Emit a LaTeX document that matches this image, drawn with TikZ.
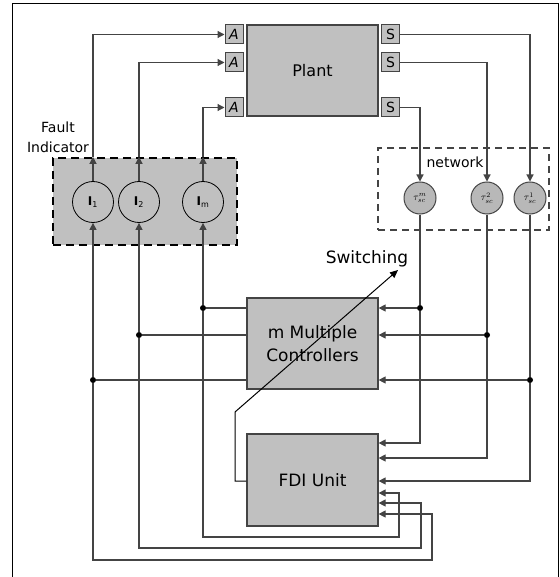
\documentclass[tikz,border=0pt]{standalone}
\usepackage{fontspec}
\setmainfont{DejaVu Sans}
\usetikzlibrary{arrows.meta}
\definecolor{lc}{HTML}{444444}
\definecolor{boxg}{HTML}{C0C0C0}
\definecolor{taug}{HTML}{B8B8B8}
\begin{document}
\begin{tikzpicture}[x=1pt,y=-1pt,
  ln/.style={draw=lc, line width=1.2pt},
  arr/.style={ln, -{Triangle[length=7pt,width=7pt]}},
  blk/.style={draw=lc, fill=boxg, line width=1.2pt, minimum width=131pt, minimum height=91pt, inner sep=0pt, align=center, font=\fontsize{17}{23}\selectfont},
  port/.style={draw=lc, fill=boxg, line width=1pt, minimum width=18pt, minimum height=19pt, inner sep=0pt, font=\itshape\fontsize{14}{14}\selectfont},
  ind/.style={circle, draw=black, fill=boxg, line width=0.8pt, minimum size=41pt, inner sep=0pt, font=\fontsize{12}{12}\selectfont},
  tau/.style={circle, draw=lc, fill=taug, line width=1pt, minimum size=32pt, inner sep=0pt, font=\fontsize{10}{10}\selectfont},
  dot/.style={circle, fill=black, minimum size=6pt, inner sep=0pt},
  lbl/.style={inner sep=0pt, align=center},
]
\useasboundingbox (0,0) rectangle (559,577);
\draw[black, line width=1pt] (12,577) -- (12,4) -- (558,4) -- (558,577);

% plant and ports
\node[blk, font=\fontsize{16}{16}\selectfont] (plant) at (312.5,70.5) {Plant};
\node[port] (A1) at (234,34.5) {A};
\node[port] (A2) at (234,62.5) {A};
\node[port] (A3) at (234,107.5) {A};
\node[port, font=\fontsize{14}{14}\selectfont] (S1) at (390.5,34.5) {S};
\node[port, font=\fontsize{14}{14}\selectfont] (S2) at (390.5,62.5) {S};
\node[port, font=\fontsize{14}{14}\selectfont] (S3) at (390.5,107.5) {S};

% fault indicator
\node[draw=black, fill=boxg, line width=2.4pt, dash pattern=on 8pt off 5pt, minimum width=184pt, minimum height=87pt, inner sep=0pt] (fault) at (145,201.5) {};
\node[lbl, font=\fontsize{14}{20}\selectfont] (flbl) at (58,137) {Fault\\Indicator};
\node[ind] (I1) at (93,202) {\textbf{I}\textsubscript{1}};
\node[ind] (I2) at (139,202) {\textbf{I}\textsubscript{2}};
\node[ind] (Im) at (203,202) {\textbf{I}\textsubscript{m}};

% network
\node[draw=lc, line width=1.2pt, dash pattern=on 7pt off 5pt, minimum width=171pt, minimum height=82pt, inner sep=0pt] (net) at (463.5,189) {};
\node[lbl, font=\fontsize{14}{14}\selectfont] (netlbl) at (455,162) {network};
\node[tau] (tm) at (420,198) {$\tau_{sc}^{m}$};
\node[tau] (t2) at (487,198) {$\tau_{sc}^{2}$};
\node[tau] (t1) at (530,198) {$\tau_{sc}^{1}$};

% controllers and FDI
\node[blk] (ctrl) at (312.5,343.5) {m Multiple\\Controllers};
\node[blk, minimum height=92pt] (fdi) at (312.5,480) {FDI Unit};
\node[lbl, font=\fontsize{17}{17}\selectfont] (swl) at (367,259) {Switching};

% indicator to actuators
\draw[arr] (I1.north) -- (I1.north |- fault.north);
\draw[arr] (I1.north |- fault.north) |- (A1.west);
\draw[arr] (I2.north) -- (I2.north |- fault.north);
\draw[arr] (I2.north |- fault.north) |- (A2.west);
\draw[arr] (Im.north) -- (Im.north |- fault.north);
\draw[arr] (Im.north |- fault.north) |- (A3.west);

% sensors to network
\draw[arr] (S1.east) -| (t1.north);
\draw[arr] (S2.east) -| (t2.north);
\draw[arr] (S3.east) -| (tm.north);

% left junctions
\node[dot] (jl1) at (203,308) {};
\node[dot] (jl2) at (139,335) {};
\node[dot] (jl3) at (93,380) {};
\draw[ln] (ctrl.west |- jl1) -- (jl1);
\draw[ln] (ctrl.west |- jl2) -- (jl2);
\draw[ln] (ctrl.west |- jl3) -- (jl3);
\draw[arr] (jl1) -- (Im.south);
\draw[arr] (jl2) -- (I2.south);
\draw[arr] (jl3) -- (I1.south);
\coordinate (b1) at (399,537);
\coordinate (e1) at (399,493);
\coordinate (b2) at (421,548);
\coordinate (e2) at (421,503);
\coordinate (b3) at (432,560);
\coordinate (e3) at (432,514);
\draw[arr] (jl1) |- (b1) -- (e1) -- (e1 -| fdi.east);
\draw[arr] (jl2) |- (b2) -- (e2) -- (e2 -| fdi.east);
\draw[arr] (jl3) |- (b3) -- (e3) -- (e3 -| fdi.east);

% right junctions
\node[dot] (jr1) at (420,308) {};
\node[dot] (jr2) at (487,335) {};
\node[dot] (jr3) at (530,380) {};
\draw[ln] (tm.south) -- (jr1);
\draw[ln] (t2.south) -- (jr2);
\draw[ln] (t1.south) -- (jr3);
\draw[arr] (jr1) -- (jr1 -| ctrl.east);
\draw[arr] (jr2) -- (jr2 -| ctrl.east);
\draw[arr] (jr3) -- (jr3 -| ctrl.east);
\coordinate (r1) at (420,443);
\coordinate (r2) at (487,458);
\coordinate (r3) at (530,481);
\draw[arr] (jr1) -- (r1) -- (r1 -| fdi.east);
\draw[arr] (jr2) -- (r2) -- (r2 -| fdi.east);
\draw[arr] (jr3) -- (r3) -- (r3 -| fdi.east);

% switching
\coordinate (s1) at (235,481);
\coordinate (s2) at (235,412);
\coordinate (swtip) at (398,270);
\draw[draw=black, line width=1pt, -{Triangle[length=8pt,width=7pt]}] (fdi.west |- s1) -- (s1) -- (s2) -- (swtip);
\end{tikzpicture}
\end{document}
